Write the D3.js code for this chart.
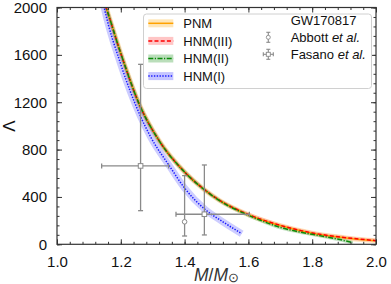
<!DOCTYPE html>
<html>
<head>
<meta charset="utf-8">
<script src="https://cdn.jsdelivr.net/npm/d3@7"></script>
<style>
  html, body { margin: 0; padding: 0; background: #fff; }
  svg { display: block; font-family: "Liberation Sans", Arial, sans-serif; }
</style>
</head>
<body>
<svg id="chart" width="391" height="284"></svg>
<script>
// ---------------- data ----------------
const seriesNames = ["PNM", "HNM(III)", "HNM(II)", "HNM(I)"];

const pnmMass   = [1.14, 1.154, 1.20, 1.26, 1.32, 1.40, 1.46, 1.51, 1.60, 1.70, 1.80, 1.90, 2.00];
const pnmLambda = [2110, 2000, 1612, 1170, 875, 610, 465, 370, 250, 158, 94, 56, 29];

const hnm3Mass   = [1.14, 1.154, 1.20, 1.26, 1.32, 1.40, 1.46, 1.51, 1.60, 1.70, 1.80, 1.90, 2.00];
const hnm3Lambda = [2110, 2000, 1612, 1170, 876, 611, 466, 371, 252, 160, 96, 58, 31];

const hnm2Mass   = [1.14, 1.154, 1.20, 1.26, 1.32, 1.40, 1.46, 1.51, 1.60, 1.65, 1.70, 1.75, 1.80, 1.85, 1.89, 1.927];
const hnm2Lambda = [2110, 2000, 1612, 1170, 875, 610, 465, 368, 245, 190, 142, 110, 84, 60, 38, 14];

const hnm1Mass   = [1.138, 1.148, 1.20, 1.26, 1.295, 1.354, 1.40, 1.464, 1.52, 1.579];
const hnm1Lambda = [2130, 2000, 1520, 1092, 900, 656, 475, 295, 190, 90];

// GW170817 constraints
const abbottMass = [1.40];
const abbottLambda = [190];
const abbottLambdaLow = [70];
const abbottLambdaHigh = [580];

const fasanoMass = [1.262, 1.462];
const fasanoMassLow = [1.14, 1.373];
const fasanoMassHigh = [1.35, 1.603];
const fasanoLambda = [662, 254];
const fasanoLambdaLow = [284, 79];
const fasanoLambdaHigh = [1520, 670];

const xTicks = [1.0, 1.2, 1.4, 1.6, 1.8, 2.0];
const yTicks = [0, 400, 800, 1200, 1600, 2000];

// ---------------- layout ----------------
const svg = d3.select("#chart");
const L = 57, R = 376, T = 7.5, B = 244.3;
const x = d3.scaleLinear().domain([1.0, 2.0]).range([L, R]);
const y = d3.scaleLinear().domain([0, 2000]).range([B, T]);

const styles = [
  {name: seriesNames[0], m: pnmMass,  l: pnmLambda,  color: "#ffa200", band: "#ffb733", bw: 5, dash: null},
  {name: seriesNames[1], m: hnm3Mass, l: hnm3Lambda, color: "#ff0000", band: "#ff5a5a", bw: 3.5, dash: "4,2.2"},
  {name: seriesNames[2], m: hnm2Mass, l: hnm2Lambda, color: "#0a8a0a", band: "#3aa03a", bw: 3.5, dash: "5,1.5,1.2,1.5"},
  {name: seriesNames[3], m: hnm1Mass, l: hnm1Lambda, color: "#1a1aff", band: "#5a5aff", bw: 7, dash: "1.4,1.4"}
];

svg.append("defs").append("clipPath").attr("id", "clip")
  .append("rect").attr("x", L).attr("y", T).attr("width", R - L).attr("height", B - T);

const plot = svg.append("g").attr("clip-path", "url(#clip)");
const line = d3.line().x(d => x(d[0])).y(d => y(d[1])).curve(d3.curveMonotoneX);

// bands first
styles.forEach(s => {
  const pts = s.m.map((m, i) => [m, s.l[i]]);
  plot.append("path").datum(pts).attr("d", line)
    .attr("fill", "none").attr("stroke", s.band).attr("stroke-opacity", 0.3)
    .attr("stroke-width", s.bw).attr("stroke-linecap", "butt");
});
styles.forEach(s => {
  const pts = s.m.map((m, i) => [m, s.l[i]]);
  plot.append("path").datum(pts).attr("d", line)
    .attr("fill", "none").attr("stroke", s.color)
    .attr("stroke-width", 1.5)
    .attr("stroke-dasharray", s.dash);
});

// error bars
const ebColor = "#8a8a8a";
const cap = 2.5;
const eb = svg.append("g").attr("stroke", ebColor).attr("stroke-width", 1.3).attr("fill", "none");
fasanoMass.forEach((m, i) => {
  const cx = x(m), cy = y(fasanoLambda[i]);
  const x0 = x(fasanoMassLow[i]), x1 = x(fasanoMassHigh[i]);
  const y0 = y(fasanoLambdaLow[i]), y1 = y(fasanoLambdaHigh[i]);
  eb.append("line").attr("x1", x0).attr("x2", x1).attr("y1", cy).attr("y2", cy);
  eb.append("line").attr("x1", cx).attr("x2", cx).attr("y1", y0).attr("y2", y1);
  [x0, x1].forEach(xx => eb.append("line").attr("x1", xx).attr("x2", xx).attr("y1", cy - cap).attr("y2", cy + cap));
  [y0, y1].forEach(yy => eb.append("line").attr("x1", cx - cap).attr("x2", cx + cap).attr("y1", yy).attr("y2", yy));
  eb.append("rect").attr("x", cx - 2.3).attr("y", cy - 2.3).attr("width", 4.6).attr("height", 4.6)
    .attr("fill", "#fff").attr("stroke-width", 1);
});
abbottMass.forEach((m, i) => {
  const cx = x(m), cy = y(abbottLambda[i]);
  const y0 = y(abbottLambdaLow[i]), y1 = y(abbottLambdaHigh[i]);
  eb.append("line").attr("x1", cx).attr("x2", cx).attr("y1", y0).attr("y2", y1);
  [y0, y1].forEach(yy => eb.append("line").attr("x1", cx - cap).attr("x2", cx + cap).attr("y1", yy).attr("y2", yy));
  eb.append("circle").attr("cx", cx).attr("cy", cy).attr("r", 2.3).attr("fill", "#fff").attr("stroke-width", 1);
});

// ---------------- axes ----------------
const axisColor = "#333";
const xMinor = d3.range(1.0, 2.0001, 0.04);
const yMinor = d3.range(0, 2000.1, 80);

function drawAxis(axisGen, transform, showLabels) {
  const g = svg.append("g").attr("transform", transform).call(axisGen);
  g.select(".domain").remove();
  g.selectAll("line").attr("stroke", axisColor).attr("stroke-width", 1);
  if (!showLabels) g.selectAll("text").remove();
  return g;
}
// bottom
drawAxis(d3.axisBottom(x).tickValues(xMinor).tickSize(-2.5).tickFormat(""), `translate(0,${B})`, false);
const gx = drawAxis(d3.axisBottom(x).tickValues(xTicks).tickSize(-5).tickPadding(12).tickFormat(d3.format(".1f")), `translate(0,${B})`, true);
gx.selectAll("text").attr("font-size", 15).attr("fill", "#111").attr("font-family", "Liberation Sans, Arial, sans-serif");
// top
drawAxis(d3.axisTop(x).tickValues(xMinor).tickSize(-2.5).tickFormat(""), `translate(0,${T})`, false);
drawAxis(d3.axisTop(x).tickValues(xTicks).tickSize(-5).tickFormat(""), `translate(0,${T})`, false);
// left
drawAxis(d3.axisLeft(y).tickValues(yMinor).tickSize(-2.5).tickFormat(""), `translate(${L},0)`, false);
const gy = drawAxis(d3.axisLeft(y).tickValues(yTicks).tickSize(-5).tickPadding(10).tickFormat(d3.format("d")), `translate(${L},0)`, true);
gy.selectAll("text").attr("font-size", 15).attr("fill", "#111").attr("font-family", "Liberation Sans, Arial, sans-serif");
// right
drawAxis(d3.axisRight(y).tickValues(yMinor).tickSize(-2.5).tickFormat(""), `translate(${R},0)`, false);
drawAxis(d3.axisRight(y).tickValues(yTicks).tickSize(-5).tickFormat(""), `translate(${R},0)`, false);

// frame
svg.append("rect").attr("x", L).attr("y", T).attr("width", R - L).attr("height", B - T)
  .attr("fill", "none").attr("stroke", axisColor).attr("stroke-width", 1.2);

// axis labels
const xl = svg.append("text").attr("x", (L + R) / 2).attr("y", 280.5).attr("text-anchor", "middle")
  .attr("font-size", 17.5).attr("fill", "#333");
xl.append("tspan").attr("font-style", "italic").text("M");
xl.append("tspan").text("/");
xl.append("tspan").attr("font-style", "italic").text("M");
xl.append("tspan").attr("font-size", 13).attr("dy", 1.5).text("⊙");

svg.append("text").attr("transform", "translate(15,126) rotate(-90)").attr("text-anchor", "middle")
  .attr("font-size", 17).attr("fill", "#111").text("Λ");

// ---------------- legend ----------------
const lg = svg.append("g");
lg.append("rect").attr("x", 143.5).attr("y", 14).attr("width", 228).attr("height", 74.5).attr("rx", 3)
  .attr("fill", "#fff").attr("fill-opacity", 0.85).attr("stroke", "#d0d0d0").attr("stroke-width", 1);

const rowY = [23.3, 40.9, 58.5, 76.1];
styles.forEach((s, i) => {
  const cy = rowY[i];
  lg.append("rect").attr("x", 148.3).attr("y", cy - 4).attr("width", 25).attr("height", 8)
    .attr("fill", s.band).attr("fill-opacity", 0.35);
  lg.append("line").attr("x1", 148.3).attr("x2", 173.3).attr("y1", cy).attr("y2", cy)
    .attr("stroke", s.color).attr("stroke-width", 1.5).attr("stroke-dasharray", s.dash);
  lg.append("text").attr("x", 183.3).attr("y", cy + 4.7).attr("font-size", 13).attr("fill", "#111").text(s.name);
});

lg.append("text").attr("x", 290.7).attr("y", 20 + 4.7).attr("font-size", 13).attr("fill", "#111").text("GW170817");

// Abbott legend marker
const ax = 268.3, ay = 37.3;
const lgEb = lg.append("g").attr("stroke", ebColor).attr("stroke-width", 1.1).attr("fill", "none");
lgEb.append("line").attr("x1", ax).attr("x2", ax).attr("y1", ay - 5).attr("y2", ay + 5);
[ay - 5, ay + 5].forEach(yy => lgEb.append("line").attr("x1", ax - 2).attr("x2", ax + 2).attr("y1", yy).attr("y2", yy));
lgEb.append("circle").attr("cx", ax).attr("cy", ay).attr("r", 2).attr("fill", "#fff").attr("stroke-width", 0.9);
const at = lg.append("text").attr("x", 290.7).attr("y", ay + 4.7).attr("font-size", 13).attr("fill", "#111");
at.append("tspan").text("Abbott ");
at.append("tspan").attr("font-style", "italic").text("et al.");

// Fasano legend marker
const fx = 268.3, fy = 54.3;
lgEb.append("line").attr("x1", fx).attr("x2", fx).attr("y1", fy - 5).attr("y2", fy + 5);
lgEb.append("line").attr("x1", fx - 5).attr("x2", fx + 5).attr("y1", fy).attr("y2", fy);
[fy - 5, fy + 5].forEach(yy => lgEb.append("line").attr("x1", fx - 2).attr("x2", fx + 2).attr("y1", yy).attr("y2", yy));
[fx - 5, fx + 5].forEach(xx => lgEb.append("line").attr("x1", xx).attr("x2", xx).attr("y1", fy - 2).attr("y2", fy + 2));
lgEb.append("rect").attr("x", fx - 2).attr("y", fy - 2).attr("width", 4).attr("height", 4).attr("fill", "#fff").attr("stroke-width", 0.9);
const ft = lg.append("text").attr("x", 290.7).attr("y", fy + 4.7).attr("font-size", 13).attr("fill", "#111");
ft.append("tspan").text("Fasano ");
ft.append("tspan").attr("font-style", "italic").text("et al.");
</script>
</body>
</html>
